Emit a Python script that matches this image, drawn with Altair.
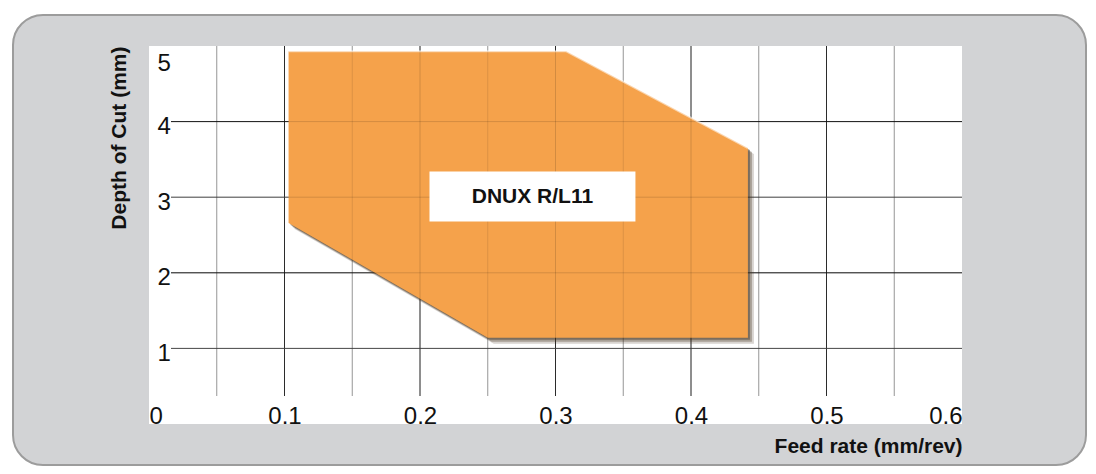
import altair as alt
import pandas as pd

# ---- data ----
feed = [0.103, 0.25, 0.308, 0.442]          # feed rate (mm/rev) at polygon breakpoints
depth_max = [4.93, 4.93, 4.93, 3.65]        # upper boundary (mm)
depth_min = [2.66, 1.14, 1.14, 1.14]        # lower boundary (mm)

x_ticks = [0, 0.1, 0.2, 0.3, 0.4, 0.5, 0.6]
y_ticks = [1, 2, 3, 4, 5]
major_x = [0.1, 0.2, 0.3, 0.4, 0.5]
minor_x = [0.05, 0.15, 0.25, 0.35, 0.45, 0.55]
dark_y = [2, 4]
light_y = [1, 3]

label_text = ["DNUX R/L11"]
label_x = [0.283]
label_y = [3.0]
box_x = [0.207]
box_x2 = [0.359]
box_y = [2.68]
box_y2 = [3.34]

W, H = 813, 378
FONT = "Liberation Sans"
xs = alt.Scale(domain=[0, 0.6], nice=False, zero=False)
ys = alt.Scale(domain=[0, 5], nice=False, zero=False)

XAX = alt.Axis(
    values=x_ticks, format="~g", labelFlush=True, labelBaseline="alphabetic",
    labelPadding=-1, ticks=False, domain=False, grid=False,
    labelFont=FONT, labelFontSize=24, labelColor="#111111",
    title="Feed rate (mm/rev)", titleFont=FONT, titleFontSize=21,
    titleFontWeight="bold", titleColor="#111111", titleX=W, titleY=28,
    titleAlign="right", titleBaseline="alphabetic", zindex=2)
YAX = alt.Axis(
    values=y_ticks, labelAlign="left", labelPadding=-8, labelFlush=True,
    labelFlushOffset=0, labelOffset=5,
    ticks=False, domain=False, grid=False,
    labelFont=FONT, labelFontSize=24, labelColor="#111111",
    title="Depth of Cut (mm)", titleFont=FONT, titleFontSize=21,
    titleFontWeight="bold", titleColor="#111111", titleAngle=270,
    titleAlign="right", titleBaseline="middle", titleX=-30, titleY=0, zindex=2)


def X(f):
    return alt.X(f, scale=xs, axis=XAX)


def Y(f):
    return alt.Y(f, scale=ys, axis=YAX)


poly = pd.DataFrame({"feed": feed, "top": depth_max, "bot": depth_min})
one = pd.DataFrame({"a": [0]})
bg = pd.DataFrame({"x0": [0], "x1": [0.6], "y0": [0], "y1": [5]})

panel = alt.Chart(one).mark_rect(
    fill="#D2D3D5", stroke="#9C9C9C", strokeWidth=2, cornerRadius=30
).encode(x=alt.value(-136), x2=alt.value(937), y=alt.value(-31), y2=alt.value(419))

plotbg = alt.Chart(bg).mark_rect(fill="white").encode(
    x=X("x0:Q"), x2="x1:Q", y=Y("y0:Q"), y2="y1:Q",
)


def vrules(vals, color, opacity=1.0):
    return alt.Chart(pd.DataFrame({"v": vals})).mark_rule(
        color=color, strokeWidth=1, opacity=opacity
    ).encode(x=X("v:Q"), y=alt.value(0), y2=alt.value(350))


def hrules(vals, color, opacity=1.0):
    return alt.Chart(pd.DataFrame({"v": vals})).mark_rule(
        color=color, strokeWidth=1, opacity=opacity
    ).encode(y=Y("v:Q"), x=alt.value(22), x2=alt.value(W))


def area(color, opacity, off):
    return alt.Chart(poly).mark_area(
        color=color, opacity=opacity, xOffset=off, yOffset=off, y2Offset=off
    ).encode(x=X("feed:Q"), y=Y("top:Q"), y2="bot:Q")


shadows = [area("#4d3b28", 0.22, 6), area("#4d3b28", 0.35, 4), area("#4d3b28", 0.5, 2)]
fill = area("#F5A24B", 1.0, 0)

top_glow = alt.Chart(poly).mark_line(color="white", strokeWidth=2, opacity=0.55).encode(
    x=X("feed:Q"), y=Y("top:Q")
)

over = [vrules(minor_x, "#000000", 0.1), vrules(major_x, "#000000", 0.14),
        hrules(dark_y + light_y, "#000000", 0.14)]

box = alt.Chart(pd.DataFrame({"x0": box_x, "x1": box_x2, "y0": box_y, "y1": box_y2})).mark_rect(
    fill="white"
).encode(x=X("x0:Q"), x2="x1:Q", y=Y("y0:Q"), y2="y1:Q")

txt = alt.Chart(pd.DataFrame({"x": label_x, "y": label_y, "t": label_text})).mark_text(
    font=FONT, fontSize=21, fontWeight="bold", color="#111111", baseline="middle", align="center"
).encode(x=X("x:Q"), y=Y("y:Q"), text="t:N")

chart = alt.layer(
    panel, plotbg,
    vrules(minor_x, "#AAAAAA"), vrules(major_x, "#333333"),
    hrules(light_y, "#555555"), hrules(dark_y, "#1A1A1A"),
    *shadows, fill, *over, top_glow, box, txt,
).properties(
    width=W, height=H,
    padding={"left": 141, "top": 38, "right": 126, "bottom": 42},
    autosize="none", background="white",
).configure_view(stroke=None, fill=None)

chart.save("out.html", embed_options={"renderer": "svg", "actions": False})
